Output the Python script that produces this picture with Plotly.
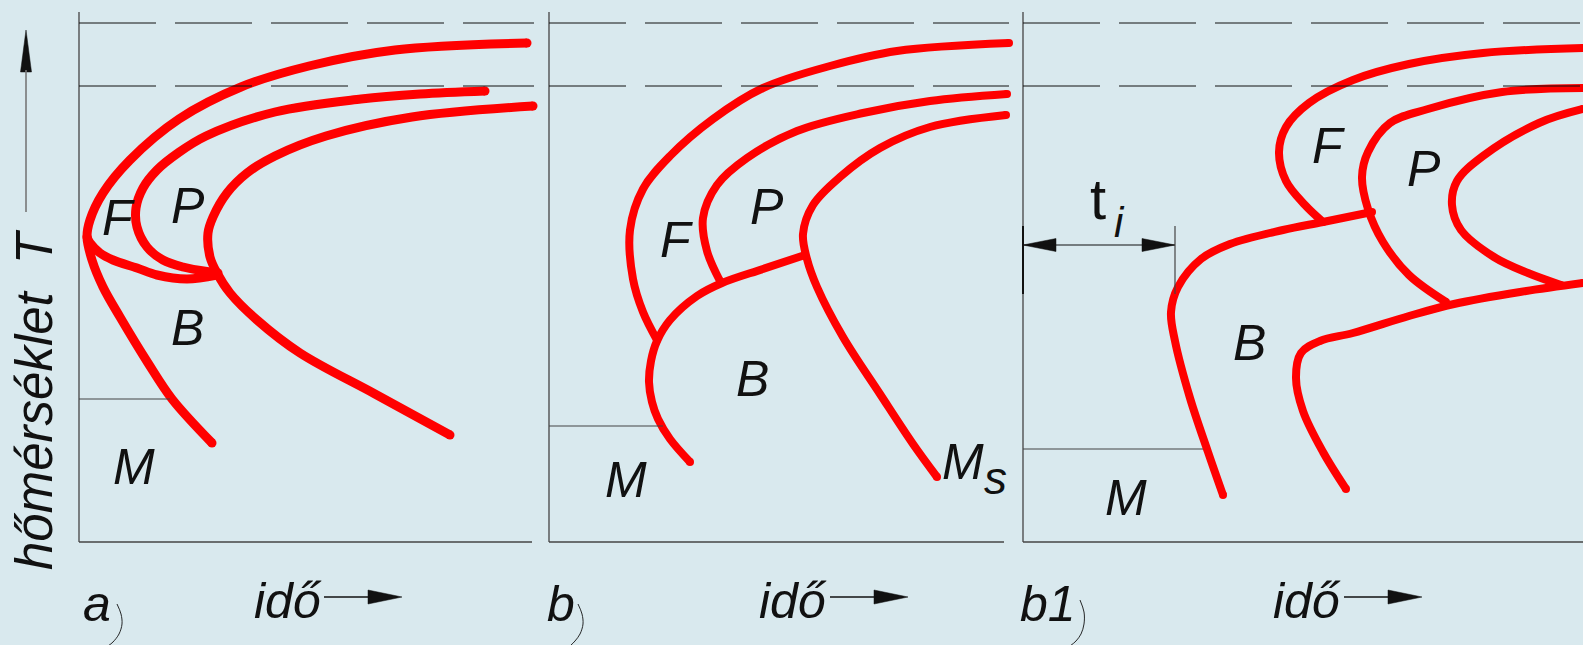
import plotly.graph_objects as go

# picture pixels: x to the right, y downwards
W, H = 1583, 645

# ---- panel a ----
a_ferrite_x = [527, 395, 309, 241, 179, 130, 103, 90, 87, 92, 103, 120, 148, 172, 212]
a_ferrite_y = [43, 50, 66, 87, 119, 160, 193, 220, 237, 260, 287, 317, 363, 399, 443]
a_bainite_x = [87, 90, 100, 113, 137, 157, 187, 217]
a_bainite_y = [237, 243, 253, 260, 268, 275, 279, 275]
a_pearlite_x = [485, 420, 361, 275, 206, 178, 157, 143, 136, 137, 147, 163, 183, 210, 218]
a_pearlite_y = [91, 94, 99, 112, 136, 153, 170, 188, 208, 227, 247, 260, 267, 272, 273]
a_finish_x = [533, 412, 326, 275, 247, 227, 213, 208, 210, 217, 230, 257, 300, 375, 450]
a_finish_y = [106, 117, 136, 156, 173, 193, 217, 233, 257, 273, 293, 320, 353, 394, 435]

# ---- panel b ----
b_ferrite_x = [1009, 897, 830, 763, 713, 670, 643, 630, 633, 643, 657]
b_ferrite_y = [43, 51, 66, 88, 119, 156, 189, 230, 279, 312, 340]
b_bainite_x = [805, 763, 722, 697, 670, 657, 651, 649, 652, 658, 670, 690]
b_bainite_y = [255, 269, 283, 296, 320, 341, 361, 382, 402, 419, 439, 462]
b_pearlite_x = [1007, 930, 863, 797, 747, 717, 703, 707, 720]
b_pearlite_y = [94, 101, 113, 131, 158, 185, 218, 251, 281]
b_finish_x = [1006, 930, 880, 840, 813, 803, 807, 817, 843, 880, 913, 937]
b_finish_y = [115, 127, 148, 177, 205, 234, 259, 287, 337, 394, 444, 477]

# ---- panel b1 ----
c_ferrite_x = [1583, 1483, 1409, 1353, 1309, 1286, 1279, 1286, 1305, 1323]
c_ferrite_y = [48, 53, 64, 80, 103, 127, 152, 181, 205, 222]
c_bainite1_x = [1223, 1208, 1190, 1175, 1171, 1178, 1201, 1230, 1283, 1323, 1372]
c_bainite1_y = [495, 452, 398, 341, 312, 287, 259, 244, 230, 222, 212]
c_pearlite_x = [1583, 1502, 1428, 1390, 1368, 1362, 1368, 1383, 1409, 1446]
c_pearlite_y = [88, 92, 109, 123, 152, 177, 209, 242, 275, 302]
c_finish_x = [1583, 1539, 1483, 1457, 1452, 1461, 1494, 1528, 1561]
c_finish_y = [109, 123, 156, 181, 205, 230, 257, 273, 285]
c_bainite2_x = [1346, 1323, 1303, 1296, 1301, 1320, 1353, 1409, 1454, 1520, 1583]
c_bainite2_y = [489, 452, 411, 378, 353, 341, 333, 316, 304, 292, 283]

# frames of the three diagrams
panel_left = [79, 549, 1023]
panel_right = [534, 1009, 1583]
axis_right = [532, 1004, 1583]
axis_top = 12
axis_bottom = 542
dashed_levels = [23, 86]
ms_levels = [399, 426, 449]
ms_ends = [170, 663, 1203]

# texts
region_text = ["F", "P", "B", "M", "F", "P", "B", "M", "F", "P", "B", "M"]
region_x = [118, 188, 187, 134, 676, 767, 752, 626, 1328, 1424, 1249, 1126]
region_y = [218, 206, 328, 467, 240, 207, 379, 480, 146, 169, 343, 498]
panel_names = ["a", "b", "b1"]
panel_name_x = [97, 561, 1048]
time_label_x = [288, 793, 1307]
time_arrow_from = [324, 830, 1344]
time_arrow_to = [402, 908, 1422]
bottom_y = 601
arc_x = [[117, 121, 122, 119, 113, 108], [578, 582, 583, 580, 575, 570], [1080, 1084, 1084, 1081, 1076, 1070]]
arc_y = [[604, 614, 624, 634, 642, 646], [604, 614, 624, 634, 641, 646], [600, 612, 624, 634, 641, 646]]

ti_left, ti_right, ti_y = 1023, 1175, 245
ti_ext_top, ti_ext_bottom = 226, 294

t_arrow_x = 26
t_arrow_top, t_arrow_bottom = 30, 212

RED = "#ff0000"
INK = "#111111"
FONT = "Liberation Sans, Arial, sans-serif"


def triangle(tx, ty, dx, dy, length, half):
    # filled arrow head with its tip at (tx, ty), pointing along (dx, dy)
    bx, by = tx - dx * length, ty - dy * length
    px, py = -dy * half, dx * half
    return [tx, bx + px, bx - px, tx], [ty, by + py, by - py, ty]


fig = go.Figure()

curves = [
    (a_ferrite_x, a_ferrite_y, 9), (a_bainite_x, a_bainite_y, 9),
    (a_pearlite_x, a_pearlite_y, 9), (a_finish_x, a_finish_y, 9),
    (b_ferrite_x, b_ferrite_y, 8), (b_bainite_x, b_bainite_y, 8),
    (b_pearlite_x, b_pearlite_y, 8), (b_finish_x, b_finish_y, 8),
    (c_ferrite_x, c_ferrite_y, 8), (c_bainite1_x, c_bainite1_y, 8),
    (c_pearlite_x, c_pearlite_y, 8), (c_finish_x, c_finish_y, 8),
    (c_bainite2_x, c_bainite2_y, 8),
]
for xs, ys, w in curves:
    fig.add_trace(go.Scatter(x=xs, y=ys, mode="lines", hoverinfo="skip",
                             line=dict(color=RED, width=w, shape="spline", smoothing=1.0)))
    # rounded ends
    fig.add_trace(go.Scatter(x=[xs[0], xs[-1]], y=[ys[0], ys[-1]], mode="markers",
                             hoverinfo="skip",
                             marker=dict(color=RED, size=w, line=dict(width=0))))

shapes = []
for left, right, aright, ms, me in zip(panel_left, panel_right, axis_right, ms_levels, ms_ends):
    shapes.append(dict(type="line", x0=left, x1=left, y0=axis_top, y1=axis_bottom,
                       line=dict(color="#444444", width=1.3)))
    shapes.append(dict(type="line", x0=left, x1=aright, y0=axis_bottom, y1=axis_bottom,
                       line=dict(color="#444444", width=1.3)))
    shapes.append(dict(type="line", x0=left, x1=me, y0=ms, y1=ms,
                       line=dict(color="#444444", width=1.2)))
    for lvl in dashed_levels:
        shapes.append(dict(type="line", x0=left, x1=right, y0=lvl, y1=lvl,
                           line=dict(color=INK, width=1, dash="77px,19px")))

# time arrows under each diagram
for x0, x1 in zip(time_arrow_from, time_arrow_to):
    shapes.append(dict(type="line", x0=x0, x1=x1 - 30, y0=597, y1=597,
                       line=dict(color=INK, width=1.5)))
    hx, hy = triangle(x1, 597, 1, 0, 34, 7)
    fig.add_trace(go.Scatter(x=hx, y=hy, mode="lines", fill="toself", fillcolor=INK,
                             line=dict(color=INK, width=0.5), hoverinfo="skip"))

for xs, ys in zip(arc_x, arc_y):
    fig.add_trace(go.Scatter(x=xs, y=ys, mode="lines", hoverinfo="skip",
                             line=dict(color=INK, width=0.9, shape="spline")))

# temperature arrow
shapes.append(dict(type="line", x0=t_arrow_x, x1=t_arrow_x, y0=t_arrow_bottom, y1=t_arrow_top + 40,
                   line=dict(color="#777777", width=1.6)))
hx, hy = triangle(t_arrow_x, t_arrow_top, 0, -1, 42, 5.5)
fig.add_trace(go.Scatter(x=hx, y=hy, mode="lines", fill="toself", fillcolor=INK,
                         line=dict(color=INK, width=0.5), hoverinfo="skip"))

# t_i dimension
shapes.append(dict(type="line", x0=ti_left, x1=ti_right, y0=ti_y, y1=ti_y,
                   line=dict(color=INK, width=1.2)))
shapes.append(dict(type="line", x0=ti_right, x1=ti_right, y0=ti_ext_top, y1=ti_ext_bottom,
                   line=dict(color="#444444", width=1.2)))
shapes.append(dict(type="line", x0=ti_left, x1=ti_left, y0=ti_ext_top, y1=ti_ext_bottom,
                   line=dict(color=INK, width=2)))
for tip, d in ((ti_left, -1), (ti_right, 1)):
    hx, hy = triangle(tip, ti_y, d, 0, 33, 6.5)
    fig.add_trace(go.Scatter(x=hx, y=hy, mode="lines", fill="toself", fillcolor=INK,
                             line=dict(color=INK, width=0.5), hoverinfo="skip"))

annotations = []
for t, x, y in zip(region_text, region_x, region_y):
    annotations.append(dict(x=x, y=y, text=f"<i>{t}</i>", showarrow=False,
                            font=dict(family=FONT, size=50, color=INK)))
annotations.append(dict(x=963, y=462, text="<i>M</i>", showarrow=False,
                        font=dict(family=FONT, size=50, color=INK)))
annotations.append(dict(x=995, y=478, text="<i>s</i>", showarrow=False,
                        font=dict(family=FONT, size=46, color=INK)))
annotations.append(dict(x=1098, y=198, text="t", showarrow=False,
                        font=dict(family=FONT, size=58, color=INK)))
annotations.append(dict(x=1119, y=222, text="<i>i</i>", showarrow=False,
                        font=dict(family=FONT, size=42, color=INK)))
for name, nx, tx in zip(panel_names, panel_name_x, time_label_x):
    annotations.append(dict(x=nx, y=bottom_y + 3, text=f"<i>{name}</i>", showarrow=False,
                            font=dict(family=FONT, size=50, color=INK)))
    annotations.append(dict(x=tx, y=bottom_y, text="<i>idő</i>", showarrow=False,
                            font=dict(family=FONT, size=50, color=INK)))
annotations.append(dict(x=34, y=400, text="<i>hőmérséklet\u00a0 T</i>", textangle=-90,
                        showarrow=False, font=dict(family=FONT, size=51, color=INK)))

fig.update_layout(
    width=W, height=H,
    margin=dict(l=0, r=0, t=0, b=0),
    paper_bgcolor="#d9e9ee", plot_bgcolor="#d9e9ee",
    showlegend=False,
    xaxis=dict(range=[0, W], visible=False, fixedrange=True),
    yaxis=dict(range=[H, 0], visible=False, fixedrange=True),
    shapes=shapes,
    annotations=annotations,
)

fig.write_html("out.html", config={"displayModeBar": False},
               post_script="document.body.style.margin='0';")
